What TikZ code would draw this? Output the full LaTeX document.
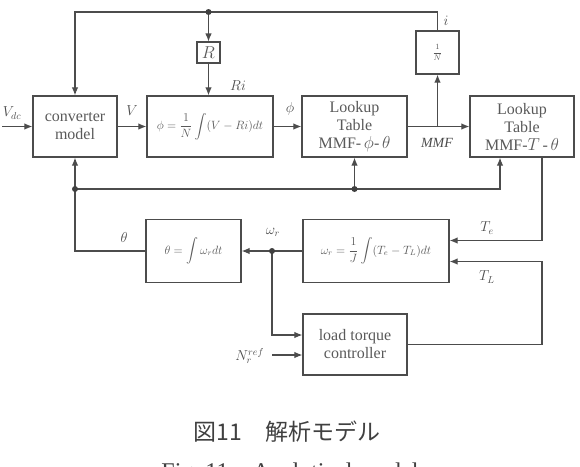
\documentclass[tikz,border=0pt]{standalone}
\usepackage{amsmath}
\usepackage{fontspec}
\setmainfont{Liberation Serif}
\newfontfamily\jpfont{Noto Sans CJK JP}
\usetikzlibrary{arrows.meta}

\begin{document}
\begin{tikzpicture}[x=1pt,y=-1pt,line width=1.1pt,draw=black!70,
  >={Latex[length=8pt,width=6.5pt]},
  blk/.style={draw,line width=1.3pt,inner sep=0pt,text=black!65,align=center,
    font=\fontsize{16}{18}\selectfont},
  eqn/.style={blk,font=\fontsize{12}{14}\selectfont},
  lbl/.style={text=black!70,font=\fontsize{14}{16}\selectfont}]
\useasboundingbox (0,0) rectangle (580,466);
\node [blk,minimum width=84pt,minimum height=61pt] (conv) at (75,126.5) {converter\\model};
\node [eqn,minimum width=126pt,minimum height=61pt] (integ) at (210,126.5) {$\phi=\dfrac{1}{N}\displaystyle\int(V-Ri)dt$};
\node [blk,minimum width=105pt,minimum height=61pt] (lutA) at (354.5,126.5) {Lookup\\Table\\MMF-\,$\phi$-\,$\theta$};
\node [blk,minimum width=104pt,minimum height=61pt] (lutB) at (522,126.5) {Lookup\\Table\\MMF-$T$\,-\,$\theta$};
\node [blk,line width=1.1pt,minimum width=23pt,minimum height=21pt] (gainR) at (208.5,52.5) {$R$};
\node [eqn,minimum width=43pt,minimum height=43pt] (gainN) at (437.5,52.5) {\footnotesize$\dfrac{1}{N}$};
\node [eqn,minimum width=95pt,minimum height=63pt] (thetabox) at (193.5,251) {$\theta=\displaystyle\int\omega_r dt$};
\node [eqn,minimum width=146pt,minimum height=63pt] (omegabox) at (376,251) {$\omega_r=\dfrac{1}{J}\displaystyle\int(T_e-T_L)dt$};
\node [blk,minimum width=104pt,minimum height=61pt] (load) at (355,344.5) {load torque\\controller};
\coordinate (vdcin) at (2,126.5);
\coordinate (topL) at (75,12);
\coordinate (idot) at (208.5,12);
\coordinate (thdot) at (75,189);
\coordinate (lutAdot) at (354.5,189);
\coordinate (mmfsplit) at (437.5,126.5);
\coordinate (wdot) at (272,251);
\coordinate (nref) at (272,355);
\coordinate (tlcorner) at (542,261.5);
\draw [->] (vdcin) -- (conv.west);
\draw [->] (conv.east) -- (integ.west);
\draw [->] (integ.east) -- (lutA.west);
\draw [->] (lutA.east) -- (lutB.west);
\draw [->] (mmfsplit) -- (gainN.south);
\draw [->] (gainN.north) |- (topL) -- (conv.north);
\draw [->] (idot) -- (gainR.north);
\draw [->] (gainR.south) -- (gainR.south |- integ.north);
\draw [->] (thdot) -- (conv.south);
\draw [->] (lutAdot) -- (lutA.south);
\draw [->] (thdot) -| ([xshift=-22pt]lutB.south);
\draw (thetabox.west) -| (thdot);
\draw (omegabox.west) -- (wdot);
\draw [->] (wdot) -- (thetabox.east);
\draw [->] (wdot) |- ([yshift=9.5pt]load.west);
\draw [->] (nref) -- (nref -| load.west);
\draw [->] ([xshift=20pt]lutB.south) |- ([yshift=10.5pt]omegabox.east);
\draw [->] (load.east) -| (tlcorner) -- ([yshift=-10.5pt]omegabox.east);
\fill [black!75] (idot) circle [radius=3pt];
\fill [black!75] (thdot) circle [radius=3pt];
\fill [black!75] (lutAdot) circle [radius=3pt];
\fill [black!75] (wdot) circle [radius=3pt];
\node [lbl] (vdclbl) at (12,113) {$V_{dc}$};
\node [lbl] (vlbl) at (132,111) {$V$};
\node [lbl] (philbl) at (290,109) {$\phi$};
\node [lbl] (rilbl) at (238,86) {$Ri$};
\node [lbl] (ilbl) at (446,21) {$i$};
\node [lbl] (mmflbl) at (437,143) {\itshape MMF};
\node [lbl] (thlbl) at (124,237) {$\theta$};
\node [lbl] (wlbl) at (273,232) {$\omega_r$};
\node [lbl] (telbl) at (487,228) {$T_e$};
\node [lbl] (tllbl) at (487,277) {$T_L$};
\node [lbl,anchor=east] (nreflbl) at (268,356) {$N_r^{ref}$};
\node [text=black!75,font=\jpfont\fontsize{23}{26}\selectfont] (cap) at (287,432) {図11\quad 解析モデル};
\node [text=black!75,font=\fontsize{24}{26}\selectfont] (capen) at (290,474) {Fig.\ 11\quad Analytical model};
\end{tikzpicture}
\end{document}
